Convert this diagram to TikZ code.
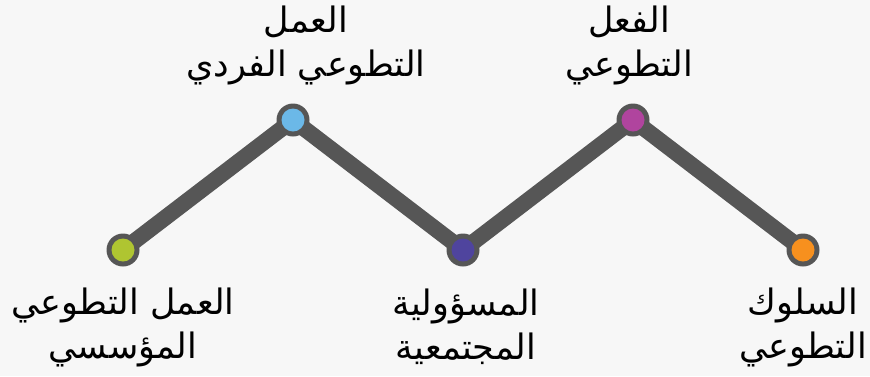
\documentclass[tikz,border=0pt]{standalone}
\usepackage{fontspec}
\newfontfamily\arabicfont[Script=Arabic]{DejaVu Sans}
\TeXXeTstate=1
\definecolor{bg}{HTML}{F7F7F7}
\definecolor{linegray}{HTML}{565656}
\definecolor{cgreen}{HTML}{AFC531}
\definecolor{cblue}{HTML}{6BB8E8}
\definecolor{cpurple}{HTML}{4F449E}
\definecolor{cmagenta}{HTML}{B0449E}
\definecolor{corange}{HTML}{F7901E}
\tikzset{
  zig/.style={draw=linegray, line width=16pt, line join=round, line cap=round},
  ring/.style={circle, fill=linegray, minimum size=33pt, inner sep=0pt},
  dotin/.style={circle, minimum size=23pt, inner sep=0pt},
  lbl/.style={align=center, font=\arabicfont\fontsize{35}{44}\selectfont, text=black, inner sep=0pt}
}
\begin{document}
\begin{tikzpicture}[x=1pt,y=-1pt]
\fill[bg] (0,0) rectangle (870,376);
\useasboundingbox (0,0) rectangle (870,376);
\coordinate (p1) at (123,250);
\coordinate (p2) at (293,120);
\coordinate (p3) at (463,250);
\coordinate (p4) at (633,120);
\coordinate (p5) at (803,250);
\draw[zig] (p1) -- (p2) -- (p3) -- (p4) -- (p5);
\foreach \p/\c in {p1/cgreen,p2/cblue,p3/cpurple,p4/cmagenta,p5/corange}{
  \node[ring] (r\p) at (\p) {};
  \node[dotin, fill=\c] (d\p) at (\p) {};
}
\node[lbl] (t1) at (123,327) {\beginR العمل التطوعي\endR\\\beginR المؤسسي\endR};
\node[lbl] (t2) at (306,45) {\beginR العمل\endR\\\beginR التطوعي الفردي\endR};
\node[lbl] (t3) at (466,327) {\beginR المسؤولية\endR\\\beginR المجتمعية\endR};
\node[lbl] (t4) at (629,45) {\beginR الفعل\endR\\\beginR التطوعي\endR};
\node[lbl] (t5) at (803,327) {\beginR السلوك\endR\\\beginR التطوعي\endR};
\end{tikzpicture}
\end{document}
